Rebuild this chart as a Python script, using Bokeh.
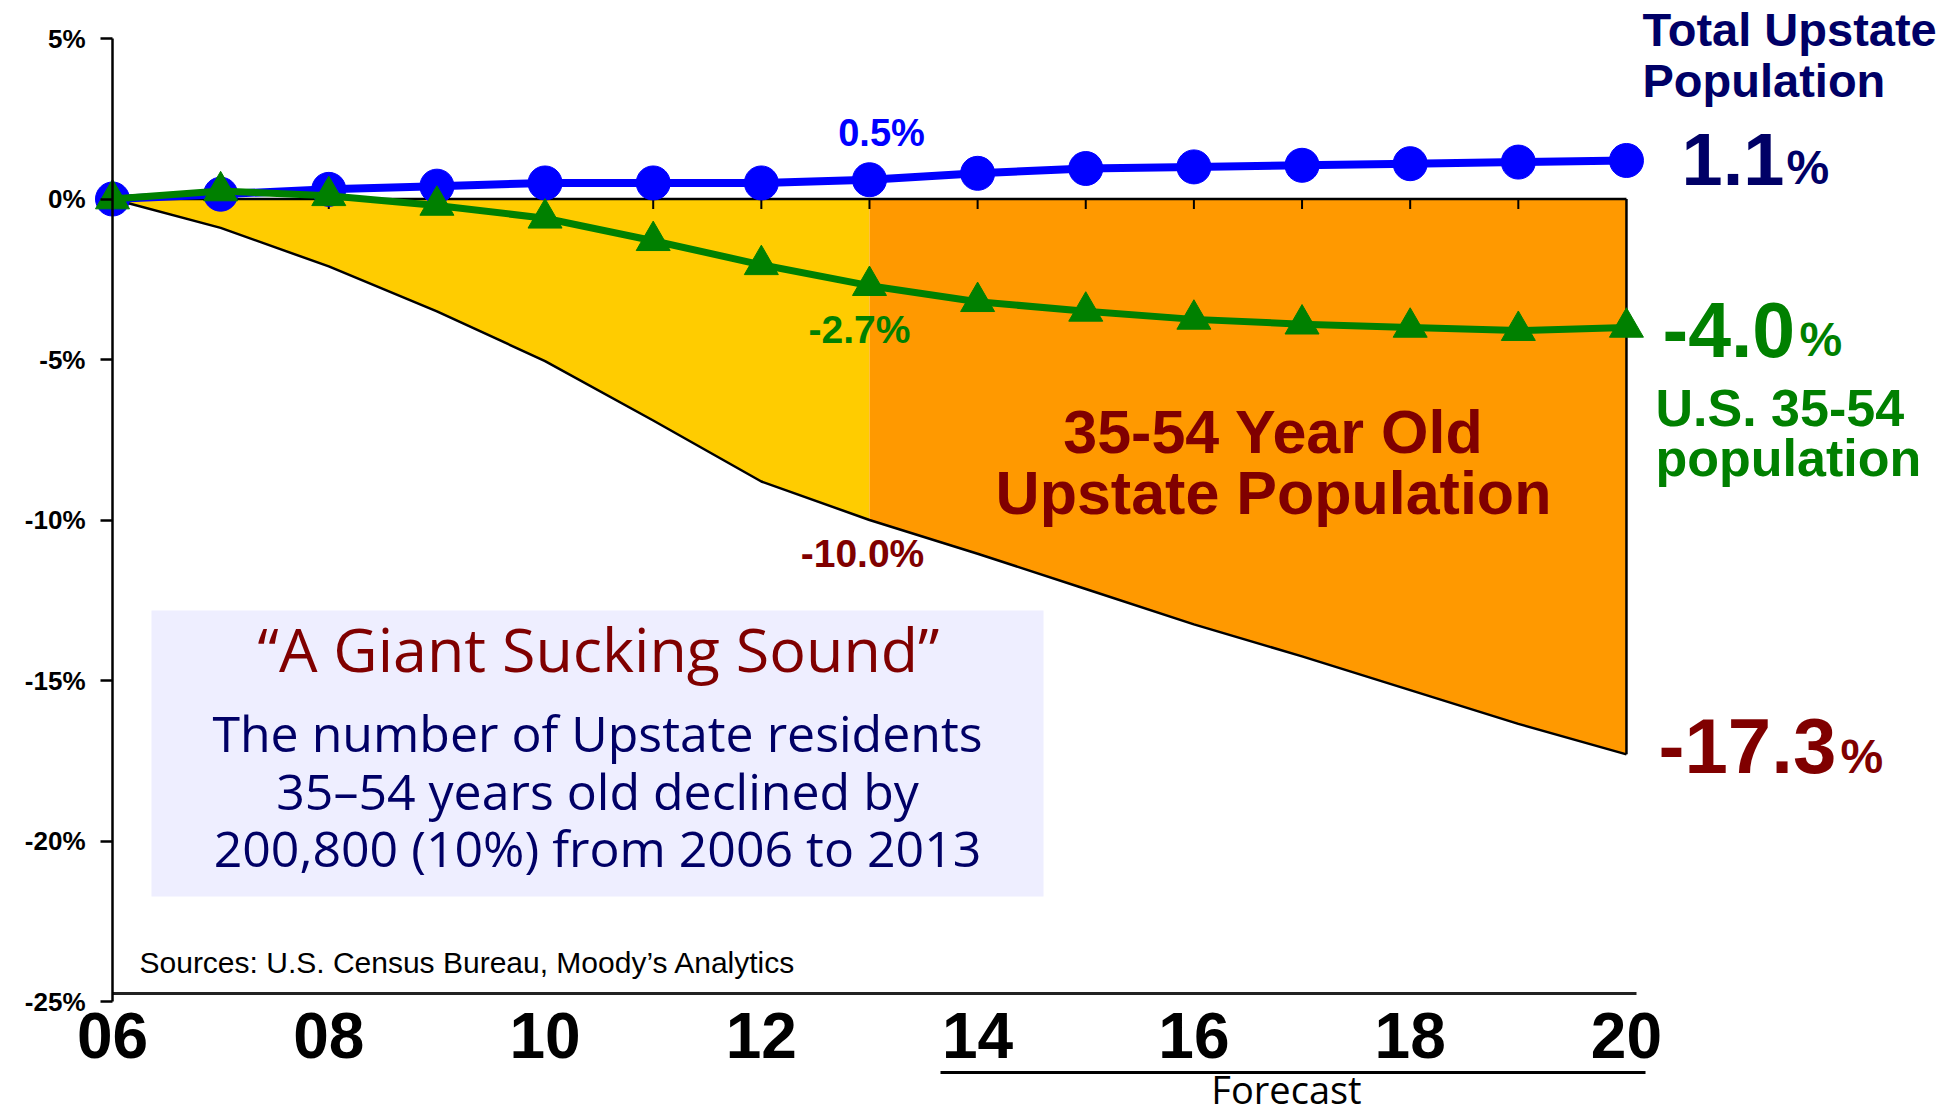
from bokeh.plotting import figure
from bokeh.models import Range1d, FixedTicker, Label, BoxAnnotation
from bokeh.embed import file_html
from bokeh.resources import INLINE

# ---------------- data ----------------
years = [6, 7, 8, 9, 10, 11, 12, 13, 14, 15, 16, 17, 18, 19, 20]
total_upstate = [0.0, 0.15, 0.3, 0.4, 0.5, 0.5, 0.5, 0.6, 0.8, 0.95, 1.0, 1.05, 1.1, 1.15, 1.2]
us_35_54 = [0.0, 0.25, 0.1, -0.2, -0.6, -1.3, -2.05, -2.7, -3.2, -3.5, -3.75, -3.9, -4.0, -4.1, -4.0]
upstate_35_54 = [0.0, -0.9, -2.1, -3.5, -5.05, -6.9, -8.8, -10.0, -11.05, -12.15, -13.25, -14.25, -15.3, -16.35, -17.3]
split_index = 7  # 2013: last actual year
x_ticks = [6, 8, 10, 12, 14, 16, 18, 20]
x_tick_labels = ["06", "08", "10", "12", "14", "16", "18", "20"]
y_ticks = [-25, -20, -15, -10, -5, 0, 5]
y_tick_labels = ["-25%", "-20%", "-15%", "-10%", "-5%", "0%", "5%"]

# ---------------- geometry (canvas pixels) ----------------
W, H = 1947, 1117
PX_YR = 108.14   # pixels per year
X6 = 112         # pixel of year 06
PX_PCT = 32.1    # pixels per percent
Y5 = 38          # pixel of +5%


def xd(px):
    return 6 + (px - X6) / PX_YR


def yd(py):
    return 5 - (py - Y5) / PX_PCT


p = figure(width=W, height=H, output_backend="svg", toolbar_location=None,
           x_range=Range1d(xd(0), xd(W)), y_range=Range1d(yd(H), yd(0)),
           min_border_left=0, min_border_right=0, min_border_top=0, min_border_bottom=0)
p.outline_line_color = None
p.grid.grid_line_color = None
p.background_fill_color = "white"
p.border_fill_color = "white"

AX_FONT = "Liberation Sans"

# y axis, placed at year 06
p.yaxis.fixed_location = years[0]
p.yaxis.bounds = (y_ticks[0], y_ticks[-1])
p.yaxis.ticker = FixedTicker(ticks=y_ticks)
p.yaxis.major_label_overrides = {t: l for t, l in zip(y_ticks, y_tick_labels)}
p.yaxis.axis_line_color = "black"
p.yaxis.axis_line_width = 2.5
p.yaxis.major_tick_line_color = "black"
p.yaxis.major_tick_line_width = 2.5
p.yaxis.minor_tick_line_color = None
p.yaxis.major_tick_out = 12
p.yaxis.major_tick_in = 0
p.yaxis.major_label_standoff = 15
p.yaxis.major_label_text_font = AX_FONT
p.yaxis.major_label_text_font_style = "bold"
p.yaxis.major_label_text_font_size = "26px"
p.yaxis.major_label_text_color = "black"

# x axis, placed just above -25%
p.xaxis.fixed_location = yd(993)
p.xaxis.bounds = (years[0], xd(1636))
p.xaxis.ticker = FixedTicker(ticks=x_ticks)
p.xaxis.major_label_overrides = {t: l for t, l in zip(x_ticks, x_tick_labels)}
p.xaxis.axis_line_color = "#222222"
p.xaxis.axis_line_width = 3
p.xaxis.major_tick_line_color = None
p.xaxis.minor_tick_line_color = None
p.xaxis.major_tick_out = 0
p.xaxis.major_tick_in = 0
p.xaxis.major_label_standoff = 19
p.xaxis.major_label_text_font = AX_FONT
p.xaxis.major_label_text_font_style = "bold"
p.xaxis.major_label_text_font_size = "64px"
p.xaxis.major_label_text_color = "black"

# ---------------- areas ----------------
zeros = [0.0] * len(years)
p.varea(x=years[:split_index + 1], y1=zeros[:split_index + 1], y2=upstate_35_54[:split_index + 1],
        fill_color="#FFCC00")
p.varea(x=years[split_index:], y1=zeros[split_index:], y2=upstate_35_54[split_index:],
        fill_color="#FF9900")
p.line(years, upstate_35_54, line_color="black", line_width=2.5)
p.segment(x0=years[0], y0=0, x1=years[-1], y1=0, line_color="black", line_width=2.5)
p.segment(x0=years[-1], y0=0, x1=years[-1], y1=upstate_35_54[-1], line_color="black", line_width=2.5)
tick_len = 10 / PX_PCT
inner = years[1:-1]
p.segment(x0=inner, y0=[0] * len(inner), x1=inner, y1=[-tick_len] * len(inner),
          line_color="black", line_width=2)

# ---------------- series ----------------
p.line(years, total_upstate, line_color="#0000FF", line_width=8)
p.scatter(years, total_upstate, marker="circle", size=34, fill_color="#0000FF", line_color="#0000FF")
p.line(years, us_35_54, line_color="#008000", line_width=7)
p.scatter(years, us_35_54, marker="triangle", size=34, fill_color="#008000", line_color="#008000")


# ---------------- annotations ----------------
# baseline compensation (fraction of font size) so the text's baseline lands at py
BASE_SHIFT = {"Liberation Sans": 0.35, "Open Sans": 0.39}


def lbl(text, px, py, size, color, align="left", font=AX_FONT, style="bold"):
    py_adj = py - BASE_SHIFT[font] * size
    p.add_layout(Label(x=xd(px), y=yd(py_adj), text=text, text_font=font, text_font_style=style,
                       text_font_size=f"{size}px", text_color=color, text_align=align,
                       text_baseline="alphabetic"))


NAVY = "#000066"
RED = "#800000"
GREEN = "#008000"

lbl("0.5%", 881, 146, 38, "#0000FF", "center")
lbl("-2.7%", 859, 343, 39, GREEN, "center")
lbl("-10.0%", 862, 567, 39, RED, "center")
lbl("35-54 Year Old", 1273, 453, 61, RED, "center")
lbl("Upstate Population", 1273, 514, 61, RED, "center")

lbl("Total Upstate", 1642, 45, 47, NAVY)
lbl("Population", 1642, 96, 47, NAVY)
lbl("1.1", 1681, 184, 74, NAVY)
lbl("%", 1786, 184, 48, NAVY)
lbl("-4.0", 1662, 356, 77, GREEN)
lbl("%", 1799, 356, 48, GREEN)
lbl("U.S. 35-54", 1655, 426, 52, GREEN)
lbl("population", 1655, 476, 52, GREEN)
lbl("-17.3", 1658, 773, 78, RED)
lbl("%", 1840, 773, 48, RED)

box = BoxAnnotation(left=xd(151), right=xd(1043), top=yd(610), bottom=yd(896),
                    fill_color="#EEEEFF", fill_alpha=1.0, line_color=None)
p.add_layout(box)
lbl("\u201cA Giant Sucking Sound\u201d", 598, 672, 61, RED, "center", "Open Sans", "normal")
lbl("The number of Upstate residents", 597, 752, 50, NAVY, "center", "Open Sans", "normal")
lbl("35\u201354 years old declined by", 597, 810, 50, NAVY, "center", "Open Sans", "normal")
lbl("200,800 (10%) from 2006 to 2013", 597, 867, 50, NAVY, "center", "Open Sans", "normal")

lbl("Sources:  U.S. Census Bureau, Moody\u2019s Analytics", 139, 972, 30, "black", "left", AX_FONT, "normal")

# forecast bracket
p.segment(x0=xd(940), y0=yd(1072), x1=xd(1645), y1=yd(1072), line_color="black", line_width=3)
lbl("Forecast", 1286, 1103, 38, "black", "center", "Open Sans", "normal")

open("out.html", "w").write(file_html(p, INLINE))
